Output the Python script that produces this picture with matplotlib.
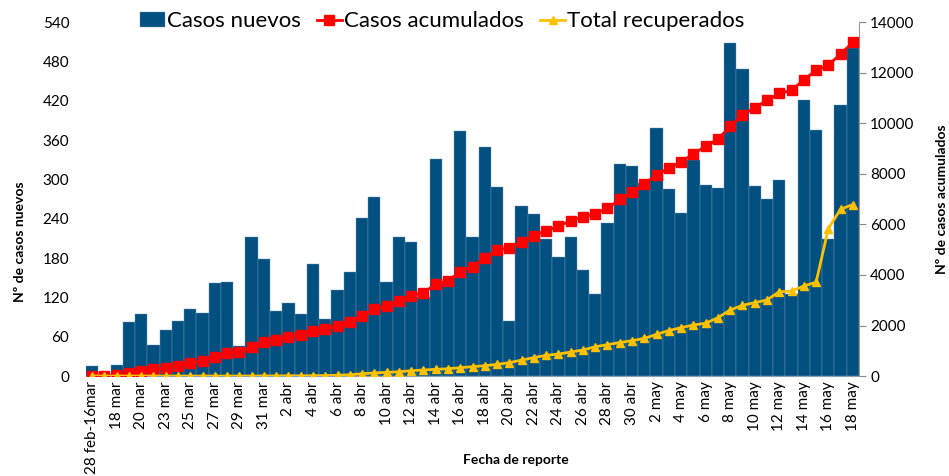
import matplotlib
matplotlib.use("Agg")
import matplotlib.pyplot as plt
import numpy as np

# categorias (fechas de reporte)
fechas = (["28 feb-16mar"]
          + [f"{d} mar" for d in (17, 18, 19, 20, 21, 23, 24, 25, 26, 27, 28, 29, 30, 31)]
          + [f"{d} abr" for d in range(1, 31)]
          + [f"{d} may" for d in range(1, 19)])

casos_nuevos = [15, 3, 17, 82, 94, 47, 71, 84, 102, 97, 142, 144, 46, 212, 179, 100,
                112, 94, 171, 87, 132, 159, 242, 274, 143, 212, 204, 120, 331, 140,
                374, 213, 349, 288, 84, 260, 247, 210, 181, 213, 162, 126, 234, 324,
                320, 295, 379, 285, 249, 330, 292, 287, 509, 469, 290, 270, 300, 125,
                422, 375, 209, 414, 501]

casos_acumulados = [15, 18, 35, 120, 210, 260, 330, 415, 515, 612, 760, 900, 945, 1150,
                    1330, 1430, 1540, 1630, 1780, 1860, 1990, 2150, 2390, 2640, 2775,
                    2985, 3185, 3300, 3630, 3765, 4135, 4330, 4690, 4990, 5060, 5300,
                    5550, 5760, 5920, 6155, 6290, 6420, 6640, 6990, 7280, 7600, 7970,
                    8230, 8470, 8800, 9090, 9380, 9880, 10340, 10630, 10910, 11190,
                    11310, 11730, 12100, 12310, 12750, 13210]

total_recuperados = [0, 0, 0, 0, 0, 0, 0, 0, 0, 0, 0, 0, 0, 0, 5, 5, 10, 10, 15, 20, 30,
                     50, 90, 125, 145, 170, 210, 240, 265, 290, 330, 370, 410, 460, 530,
                     630, 730, 820, 870, 950, 1030, 1160, 1240, 1325, 1400, 1490, 1650,
                     1800, 1915, 2020, 2090, 2310, 2615, 2800, 2905, 3010, 3340, 3355,
                     3570, 3710, 5840, 6605, 6790]

plt.rcParams['font.family'] = ['Lato', 'DejaVu Sans']

azul = "#02507f"
rojo = "#ff0000"
amarillo = "#ffc000"

fig = plt.figure(figsize=(9.49, 4.76), dpi=100)
ax = fig.add_axes([0.0906, 0.21, 0.8146, 0.743])
ax2 = ax.twinx()

x = np.arange(len(fechas))
barras = ax.bar(x, casos_nuevos, width=1.0, color=azul, edgecolor="#6a98b8",
                linewidth=0.3, label="Casos nuevos", zorder=1)
l1, = ax2.plot(x, casos_acumulados, color=rojo, marker="s", markersize=6.5,
               linewidth=2, label="Casos acumulados", zorder=3)
l2, = ax2.plot(x, total_recuperados, color=amarillo, marker="^", markersize=6,
               linewidth=2, label="Total recuperados", zorder=3)

ax.set_xlim(-0.5, len(fechas) - 0.5)
ax.set_ylim(0, 540)
ax.set_yticks(np.arange(0, 541, 60))
ax2.set_ylim(0, 14000)
ax2.set_yticks(np.arange(0, 14001, 2000))

ax.set_xticks(x[::2])
ax.set_xticklabels(fechas[::2], rotation=90, fontsize=11)
ax.tick_params(axis="x", length=0, pad=4)
ax.tick_params(axis="y", length=0, labelsize=11, pad=12)
ax2.tick_params(axis="y", length=5, color="#888888", labelsize=11, pad=3)

for s in ("top", "left", "right"):
    ax.spines[s].set_visible(False)
ax.spines["bottom"].set_color("#8aa0b4")
for s in ("top", "left", "bottom"):
    ax2.spines[s].set_visible(False)
ax2.spines["right"].set_color("#999999")

ax.set_ylabel("Nº de casos nuevos", fontsize=10, fontweight="bold")
ax.yaxis.set_label_coords(-0.078, 0.38)
ax2.set_ylabel("Nº de casos acumulados", fontsize=10, fontweight="bold", rotation=90)
ax2.yaxis.set_label_coords(1.1, 0.5)
fig.text(0.544, 0.033, "Fecha de reporte", fontsize=10, fontweight="bold",
         ha="center", va="center")

fig.legend(handles=[barras, l1, l2], loc="upper center", bbox_to_anchor=(0.466, 1.018),
           ncol=3, frameon=False, fontsize=16, handlelength=1.1, handletextpad=0.1,
           columnspacing=0.75)

fig.savefig("out.png", dpi=100)
